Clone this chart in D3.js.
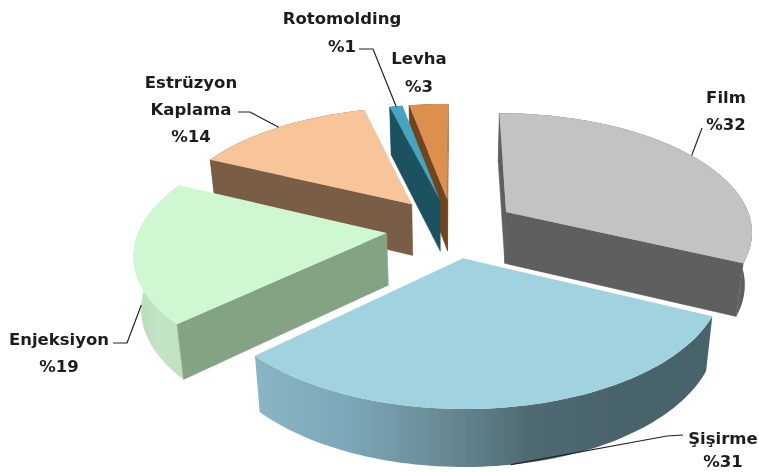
<!DOCTYPE html>
<html>
<head>
<meta charset="utf-8">
<script src="https://cdnjs.cloudflare.com/ajax/libs/d3/7.8.5/d3.min.js"></script>
<style>
body { margin: 0; background: #fff; }
svg { display: block; }
text { font-family: "DejaVu Sans", sans-serif; font-weight: 700; font-size: 16.5px; fill: #1c1c1c; text-anchor: middle; }
</style>
</head>
<body>
<div></div>
<script>
const width = 759
const height = 472

const categories = ['Film', 'Şişirme', 'Enjeksiyon', 'Estrüzyon Kaplama', 'Rotomolding', 'Levha']
const values = [32, 31, 19, 14, 1, 3]
const topColors = ['#c3c3c3', '#a0d2e0', '#cff8d2', '#f8c49a', '#46a3bf', '#dd8f4f']
const wallColors = ['#5e5e5e', '#4a636b', '#84a384', '#795d46', '#1f515e', '#70451f']
const arcColors = [
    ['#5e5e5e', '#5e5e5e'],
    ['#8ab5c5', '#7ba8b8', '#6a8c97', '#4f6a72', '#4a636b', '#4a636b'],
    ['#b7dcb9', '#c4e4c6', '#bfe0c1'],
    ['#795d46', '#795d46'],
    ['#1f515e', '#1f515e'],
    ['#70451f', '#70451f']
]

// label placement: text lines with centre and baseline, then the elbow of the leader
const labelLines = [
    ['Film', '%32'],
    ['Şişirme', '%31'],
    ['Enjeksiyon', '%19'],
    ['Estrüzyon', 'Kaplama', '%14'],
    ['Rotomolding', '%1'],
    ['Levha', '%3']
]
const labelX = [726, 723, 59, 191, 342, 419]
const labelY = [103, 444, 345, 88, 24, 64]
const labelGap = [27, 23, 27, 27, 28, 28]
const leaderFrom = [[702, 128], [683, 435], [113, 343], [238, 112], [359, 49], null]
const leaderElbow = [null, [667, 436], [127, 343], [250, 112], [373, 49], null]
const leaderOnBottom = [false, true, true, false, false, false]

// 3d view of the pie
const explode = [0.26, 0.25, 0.27, 0.27, 0.25, 0.25]
const perspective = 0.15
const depth = 52
const bottomShrink = 0.976
const xScale = d3.scaleLinear().domain([-1, 1]).range([453 - 247, 453 + 247])
const yScale = d3.scaleLinear().domain([-1, 1]).range([228 - 118, 228 + 118])

let svg = d3.select('div').append('svg')
    .attr('width', width)
    .attr('height', height)
let defs = svg.append('defs')

defs.append('filter').attr('id', 'soft')
    .append('feGaussianBlur').attr('stdDeviation', 0.4)

function project(u, v, bottom) {
    let s = 1 / (1 - perspective * v)
    let x = xScale(u * s)
    let y = yScale(v * s)
    if (bottom) {
        x = xScale(u * s * bottomShrink)
        y += depth * (1 + (s - 1) * 0.5)
    }
    return [x, y]
}

function rim(d, a, r) {
    let mid = (d.startAngle + d.endAngle) / 2
    return {
        u: explode[d.index] * Math.sin(mid) + r * Math.sin(a),
        v: -explode[d.index] * Math.cos(mid) - r * Math.cos(a)
    }
}

const pie = d3.pie().sort(null)
const slices = pie(values).map((d, i) => {
    let count = Math.max(4, Math.ceil((d.endAngle - d.startAngle) * 40))
    let angles = d3.range(count + 1).map(k => d.startAngle + (d.endAngle - d.startAngle) * k / count)
    return {
        i: i,
        d: d,
        apex: rim(d, d.startAngle, 0),
        edge: angles.map(a => rim(d, a, 1))
    }
})
slices.sort((a, b) => a.apex.v - b.apex.v)

const line = d3.line()
const chart = svg.append('g').attr('filter', 'url(#soft)')

slices.forEach(s => {
    let i = s.i
    let top = s.edge.map(p => project(p.u, p.v, false))
    let bot = s.edge.map(p => project(p.u, p.v, true))
    let apexTop = project(s.apex.u, s.apex.v, false)
    let apexBot = project(s.apex.u, s.apex.v, true)
    let g = chart.append('g')

    let grad = defs.append('linearGradient').attr('id', 'arc' + i)
    arcColors[i].forEach((c, k) => {
        grad.append('stop')
            .attr('offset', k / (arcColors[i].length - 1))
            .attr('stop-color', c)
    })

    g.append('path')
        .attr('d', line(top.concat(bot.slice().reverse())) + 'Z')
        .attr('fill', 'url(#arc' + i + ')')

    // cut walls only when they face the viewer
    let last = top.length - 1
    if (-Math.cos(s.d.startAngle - Math.PI / 2) > -0.01) {
        g.append('path')
            .attr('d', line([apexTop, top[0], bot[0], apexBot]) + 'Z')
            .attr('fill', wallColors[i])
            .attr('stroke', wallColors[i])
            .attr('stroke-width', 0.5)
    }
    if (-Math.cos(s.d.endAngle + Math.PI / 2) > -0.01) {
        g.append('path')
            .attr('d', line([apexTop, top[last], bot[last], apexBot]) + 'Z')
            .attr('fill', wallColors[i])
            .attr('stroke', wallColors[i])
            .attr('stroke-width', 0.5)
    }
    g.append('path')
        .attr('d', line([apexTop].concat(top)) + 'Z')
        .attr('fill', topColors[i])
})

// leaders
slices.forEach(s => {
    let i = s.i
    if (!leaderFrom[i]) return
    let mid = (s.d.startAngle + s.d.endAngle) / 2
    let p = rim(s.d, mid, 1)
    let end = project(p.u, p.v, leaderOnBottom[i])
    let pts = [leaderFrom[i]]
    if (leaderElbow[i]) pts.push(leaderElbow[i])
    pts.push(end)
    chart.append('path')
        .attr('d', line(pts))
        .attr('fill', 'none')
        .attr('stroke', '#222')
        .attr('stroke-width', 1.2)
})

const labels = svg.append('g').attr('filter', 'url(#soft)')
labelLines.forEach((rows, i) => {
    rows.forEach((t, k) => {
        labels.append('text')
            .attr('x', labelX[i])
            .attr('y', labelY[i] + k * labelGap[i])
            .text(t)
    })
})
</script>
</body>
</html>
